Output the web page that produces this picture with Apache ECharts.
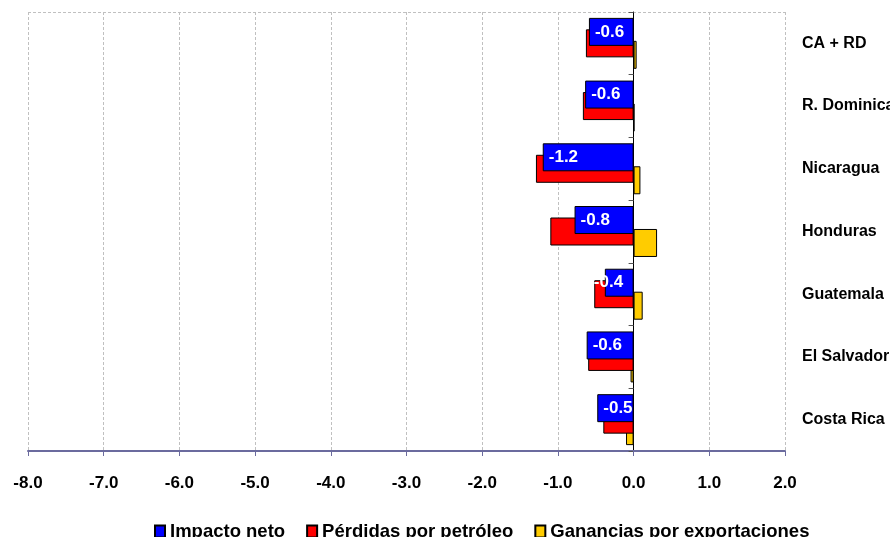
<!DOCTYPE html>
<html>
<head>
<meta charset="utf-8">
<script src="https://cdn.jsdelivr.net/npm/echarts@6/dist/echarts.min.js"></script>
<style>
  html, body { margin: 0; padding: 0; background: #fff; }
  #chart { width: 890px; height: 537px; }
</style>
</head>
<body>
<div id="chart"></div>
<script>
// categories, bottom to top
var paises = ['Costa Rica', 'El Salvador', 'Guatemala', 'Honduras', 'Nicaragua', 'R. Dominicana', 'CA + RD'];
var impactoNeto = [-0.48, -0.62, -0.38, -0.78, -1.2, -0.64, -0.59];
var perdidasPetroleo = [-0.40, -0.60, -0.52, -1.10, -1.29, -0.67, -0.63];
var gananciasExport = [-0.10, -0.04, 0.12, 0.31, 0.09, 0.01, 0.04];
var nombres = ['Impacto neto', 'Pérdidas por petróleo', 'Ganancias por exportaciones'];

var fuente = 'Liberation Sans';
var chart = echarts.init(document.getElementById('chart'));

// blue labels; short bars push the label out to the left
var netoData = impactoNeto.map(function (v) {
  var item = { value: v };
  if (Math.abs(v) < 0.45) {
    item.label = { offset: [-17, 0] };
  }
  return item;
});

var option = {
  animation: false,
  textStyle: { fontFamily: fuente },
  grid: { left: 28, right: 105, top: 12, bottom: 86, containLabel: false,
    outerBoundsMode: 'none', show: false },
  legend: {
    data: nombres,
    left: 149,
    top: 517,
    icon: 'rect',
    itemWidth: 10,
    itemHeight: 12,
    itemGap: 21,
    textStyle: { fontFamily: fuente, fontWeight: 'bold', fontSize: 18.5, color: '#000' }
  },
  xAxis: {
    type: 'value',
    min: -8,
    max: 2,
    interval: 1,
    axisLine: { show: true, onZero: false, lineStyle: { color: '#6b6b9e', width: 2 } },
    axisTick: { show: true, length: 5, lineStyle: { color: '#6b6b9e' } },
    axisLabel: {
      margin: 24,
      color: '#000',
      fontFamily: fuente,
      fontWeight: 'bold',
      fontSize: 17,
      formatter: function (v) { return v.toFixed(1); }
    },
    splitLine: { show: true, lineStyle: { color: '#c0c0c0', type: [3, 2] } }
  },
  yAxis: [
    {
      type: 'category',
      data: paises,
      axisLine: { show: true, onZero: true, lineStyle: { color: '#000', width: 1 } },
      axisTick: { show: true, length: 5, lineStyle: { color: '#555' } },
      axisLabel: { show: false },
      splitLine: { show: false }
    },
    {
      type: 'category',
      data: paises,
      position: 'right',
      axisLine: { show: false },
      axisTick: { show: false },
      axisLabel: {
        margin: 17,
        align: 'left',
        color: '#000',
        fontFamily: fuente,
        fontWeight: 'bold',
        fontSize: 16
      }
    }
  ],
  series: [
    {
      name: nombres[0],
      type: 'bar',
      yAxisIndex: 0,
      barWidth: 28,
      barGap: '-59%',
      z: 4,
      itemStyle: { color: '#0000ff', borderColor: '#000', borderWidth: 1 },
      label: {
        show: true,
        position: 'insideLeft',
        distance: 6,
        color: '#fff',
        fontFamily: fuente,
        fontWeight: 'bold',
        fontSize: 17,
        formatter: function (p) { return p.value.toFixed(1); }
      },
      data: netoData
    },
    {
      name: nombres[1],
      type: 'bar',
      yAxisIndex: 0,
      barWidth: 28,
      barGap: '-59%',
      z: 3,
      itemStyle: { color: '#ff0000', borderColor: '#000', borderWidth: 1 },
      data: perdidasPetroleo
    },
    {
      name: nombres[2],
      type: 'bar',
      yAxisIndex: 0,
      barWidth: 28,
      barGap: '-59%',
      z: 2,
      itemStyle: { color: '#ffcc00', borderColor: '#000', borderWidth: 1 },
      data: gananciasExport
    }
  ],
  graphic: [
    // dashed top border of the plot area
    {
      type: 'line',
      shape: { x1: 28, y1: 12.5, x2: 785, y2: 12.5 },
      style: { stroke: '#c0c0c0', lineDash: [3, 2], lineWidth: 1 },
      silent: true
    }
  ]
};

chart.setOption(option);
</script>
</body>
</html>
